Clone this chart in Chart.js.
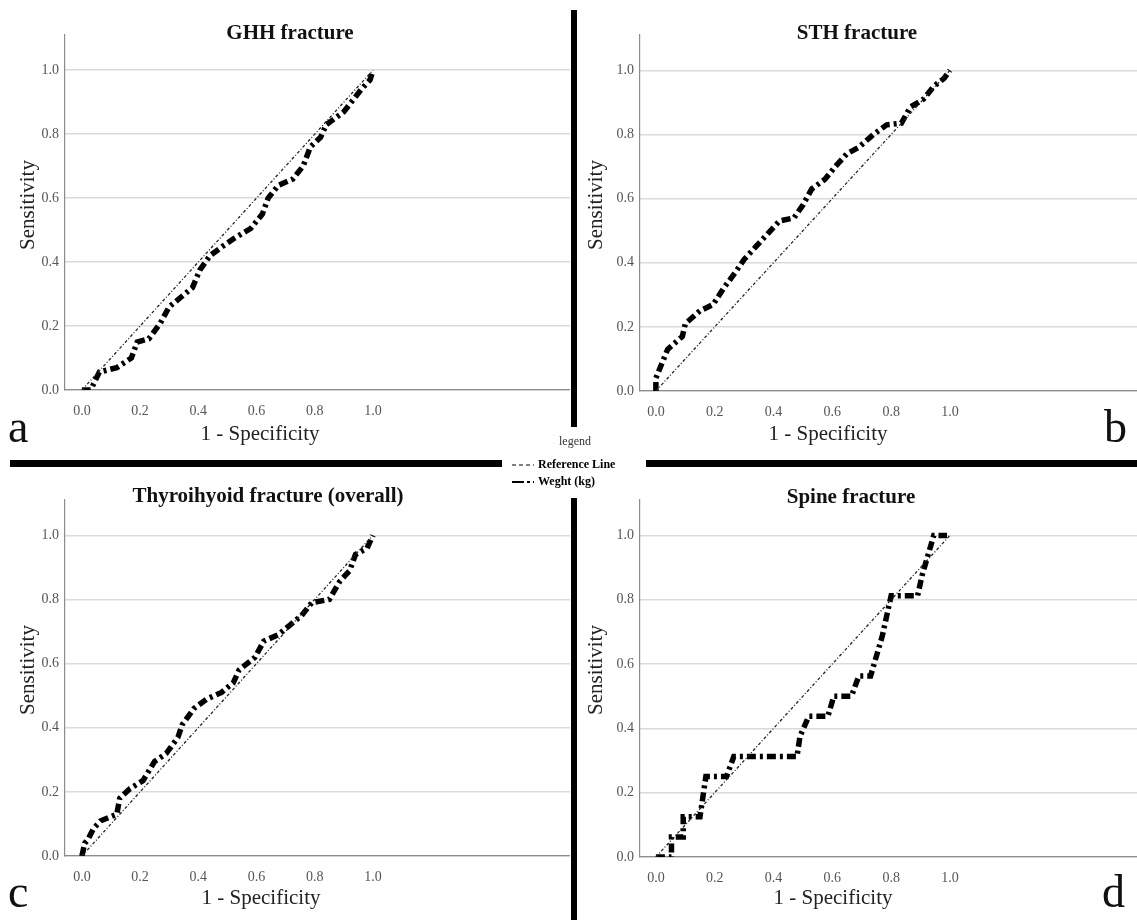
<!DOCTYPE html>
<html>
<head>
<meta charset="utf-8">
<script src="https://cdn.jsdelivr.net/npm/chart.js@4.4.0/dist/chart.umd.min.js"></script>
<style>
  body { margin: 0; width: 1137px; height: 920px; position: relative; overflow: hidden; background: #fff; font-family: "Liberation Serif", "DejaVu Serif", serif; }
  canvas { position: absolute; }
  .bar { position: absolute; background: #000; }
  .txt { position: absolute; white-space: nowrap; color: #111; transform: translate(-50%, -50%); }
  .title { font-weight: bold; font-size: 21px; }
  .axis { font-size: 21px; color: #222; }
  .ylab { transform: translate(-50%, -50%) rotate(-90deg); }
  .letter { font-size: 46px; transform: none; line-height: 1; }
  .leg { position: absolute; font-size: 12px; white-space: nowrap; }
</style>
</head>
<body>
<canvas id="ca" width="570" height="460" style="left:0;top:0"></canvas>
<canvas id="cb" width="560" height="460" style="left:577px;top:0"></canvas>
<canvas id="cc" width="570" height="453" style="left:0;top:467px"></canvas>
<canvas id="cd" width="560" height="453" style="left:577px;top:467px"></canvas>

<!-- separators -->
<div class="bar" style="left:571px;top:10px;width:6px;height:417px"></div>
<div class="bar" style="left:571px;top:498px;width:6px;height:422px"></div>
<div class="bar" style="left:10px;top:460px;width:492px;height:7px"></div>
<div class="bar" style="left:646px;top:460px;width:491px;height:7px"></div>

<!-- titles -->
<div class="txt title" style="left:290px;top:32px">GHH fracture</div>
<div class="txt title" style="left:857px;top:32px">STH fracture</div>
<div class="txt title" style="left:268px;top:495px">Thyroihyoid fracture (overall)</div>
<div class="txt title" style="left:851px;top:496px">Spine fracture</div>

<!-- axis titles -->
<div class="txt axis" style="left:260px;top:433px">1 - Specificity</div>
<div class="txt axis" style="left:828px;top:433px">1 - Specificity</div>
<div class="txt axis" style="left:261px;top:897px">1 - Specificity</div>
<div class="txt axis" style="left:833px;top:897px">1 - Specificity</div>
<div class="txt axis ylab" style="left:27px;top:205px">Sensitivity</div>
<div class="txt axis ylab" style="left:595px;top:205px">Sensitivity</div>
<div class="txt axis ylab" style="left:27px;top:670px">Sensitivity</div>
<div class="txt axis ylab" style="left:595px;top:670px">Sensitivity</div>

<!-- panel letters -->
<div class="txt letter" style="left:8px;top:404px">a</div>
<div class="txt letter" style="left:1104px;top:404px">b</div>
<div class="txt letter" style="left:8px;top:869px">c</div>
<div class="txt letter" style="left:1102px;top:869px">d</div>

<!-- legend -->
<div class="leg" style="left:575px;top:441px;transform:translate(-50%,-50%);color:#333">legend</div>
<canvas id="legRef" width="22" height="6" style="left:512px;top:462px"></canvas>
<div class="leg" style="left:538px;top:457px;font-weight:bold">Reference Line</div>
<canvas id="legRoc" width="22" height="6" style="left:512px;top:479px"></canvas>
<div class="leg" style="left:538px;top:474px;font-weight:bold">Weght (kg)</div>

<script>
// tick values
const xTicks = [0, 0.2, 0.4, 0.6, 0.8, 1.0];
const yTicks = [0, 0.2, 0.4, 0.6, 0.8, 1.0];

// reference diagonal
const refX = [0, 1];
const refY = [0, 1];

// a - GHH fracture
const ghhFpr = [0, 0.03, 0.06, 0.12, 0.17, 0.19, 0.23, 0.27, 0.30, 0.34, 0.38, 0.405, 0.44, 0.485, 0.525, 0.58, 0.62, 0.64, 0.675, 0.725, 0.76, 0.785, 0.82, 0.84, 0.90, 0.93, 0.96, 0.99, 1.0];
const ghhTpr = [0, 0, 0.056, 0.07, 0.10, 0.15, 0.16, 0.21, 0.26, 0.29, 0.32, 0.375, 0.42, 0.45, 0.475, 0.505, 0.55, 0.60, 0.64, 0.66, 0.70, 0.76, 0.79, 0.83, 0.87, 0.905, 0.94, 0.97, 1.0];

// b - STH fracture
const sthFpr = [0, 0, 0.02, 0.04, 0.09, 0.10, 0.15, 0.195, 0.23, 0.27, 0.30, 0.34, 0.38, 0.42, 0.47, 0.50, 0.53, 0.575, 0.61, 0.65, 0.69, 0.74, 0.785, 0.835, 0.865, 0.91, 0.945, 0.98, 1.0];
const sthTpr = [0, 0.04, 0.085, 0.13, 0.17, 0.21, 0.25, 0.27, 0.32, 0.37, 0.41, 0.45, 0.49, 0.53, 0.54, 0.58, 0.63, 0.66, 0.70, 0.74, 0.76, 0.80, 0.83, 0.835, 0.885, 0.91, 0.95, 0.975, 1.0];

// c - Thyroihyoid fracture (overall)
const thyFpr = [0, 0.01, 0.02, 0.04, 0.065, 0.12, 0.13, 0.165, 0.21, 0.25, 0.29, 0.33, 0.345, 0.385, 0.43, 0.48, 0.52, 0.54, 0.595, 0.625, 0.675, 0.715, 0.755, 0.79, 0.85, 0.885, 0.92, 0.94, 0.98, 1.0];
const thyTpr = [0, 0.04, 0.05, 0.086, 0.11, 0.13, 0.18, 0.21, 0.235, 0.295, 0.32, 0.37, 0.41, 0.46, 0.49, 0.51, 0.54, 0.58, 0.62, 0.67, 0.69, 0.72, 0.75, 0.79, 0.80, 0.855, 0.89, 0.94, 0.96, 1.0];

// d - Spine fracture
const spineFpr = [0, 0.053, 0.053, 0.093, 0.093, 0.15, 0.16, 0.17, 0.24, 0.265, 0.48, 0.49, 0.52, 0.585, 0.605, 0.665, 0.69, 0.73, 0.75, 0.77, 0.785, 0.80, 0.89, 0.905, 0.925, 0.945, 0.99];
const spineTpr = [0, 0, 0.0625, 0.0625, 0.125, 0.125, 0.1875, 0.25, 0.25, 0.3125, 0.3125, 0.375, 0.4375, 0.4375, 0.5, 0.5, 0.5625, 0.5625, 0.625, 0.6875, 0.75, 0.8125, 0.8125, 0.875, 0.9375, 1.0, 1.0];

const rocDash = [9, 4, 3, 4];
const refDash = [3, 2, 1, 2];

function pts(xs, ys) {
    return xs.map((x, i) => ({ x: x, y: ys[i] }));
}

function makePanel(id, fpr, tpr, box) {
    new Chart(document.getElementById(id), {
        type: 'scatter',
        data: {
            datasets: [{
                label: 'Reference Line',
                data: pts(refX, refY),
                showLine: true,
                borderColor: '#222',
                borderWidth: 1.3,
                borderDash: refDash,
                pointRadius: 0
            }, {
                label: 'Weght (kg)',
                data: pts(fpr, tpr),
                showLine: true,
                borderColor: '#000',
                borderWidth: 5.5,
                borderDash: rocDash,
                pointRadius: 0
            }]
        },
        options: {
            responsive: false,
            animation: false,
            layout: { padding: { top: box.top, left: 0, right: 0, bottom: 0 } },
            plugins: { legend: { display: false }, tooltip: { enabled: false } },
            scales: {
                x: {
                    type: 'linear',
                    min: box.xmin,
                    max: box.xmax,
                    afterBuildTicks: s => { s.ticks = xTicks.map(v => ({ value: v })); },
                    afterFit: s => { s.height = box.xh; },
                    grid: { display: false },
                    border: { color: '#8c8c8c', width: 1.2 },
                    ticks: {
                        padding: 5,
                        color: '#555',
                        font: { family: 'Liberation Serif', size: 14 },
                        callback: v => Number(v).toFixed(1)
                    }
                },
                y: {
                    min: 0,
                    max: 1.11,
                    afterBuildTicks: s => { s.ticks = yTicks.map(v => ({ value: v })); },
                    afterFit: s => { s.width = box.yw; },
                    grid: { color: '#dadada', lineWidth: 1.5, drawTicks: false },
                    border: { color: '#8c8c8c', width: 1.2 },
                    ticks: {
                        padding: 6,
                        color: '#555',
                        font: { family: 'Liberation Serif', size: 14 },
                        callback: v => Number(v).toFixed(1)
                    }
                }
            }
        }
    });
}

makePanel('ca', ghhFpr, ghhTpr, { top: 35, xh: 70, yw: 65, xmin: -0.058, xmax: 1.677 });
makePanel('cb', sthFpr, sthTpr, { top: 35, xh: 69, yw: 63, xmin: -0.054, xmax: 1.636 });
makePanel('cc', thyFpr, thyTpr, { top: 33, xh: 64, yw: 65, xmin: -0.058, xmax: 1.677 });
makePanel('cd', spineFpr, spineTpr, { top: 33, xh: 63, yw: 63, xmin: -0.054, xmax: 1.636 });

// legend samples
function legLine(id, dash, w) {
    const ctx = document.getElementById(id).getContext('2d');
    ctx.strokeStyle = '#000';
    ctx.lineWidth = w;
    ctx.setLineDash(dash);
    ctx.beginPath();
    ctx.moveTo(0, 3);
    ctx.lineTo(22, 3);
    ctx.stroke();
}
legLine('legRef', [4, 3], 1);
legLine('legRoc', [12, 3, 3, 3], 2);
</script>
</body>
</html>
